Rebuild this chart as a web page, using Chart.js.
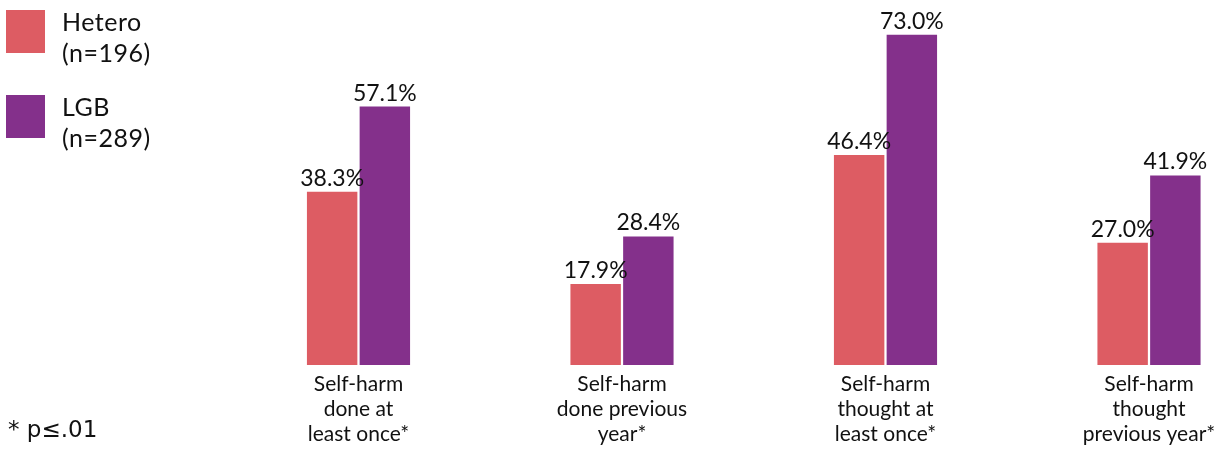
<!DOCTYPE html>
<html>
<head>
<meta charset="utf-8">
<script src="https://cdn.jsdelivr.net/npm/chart.js@4.4.1/dist/chart.umd.min.js"></script>
<style>
  html, body { margin: 0; padding: 0; background: #fff; }
  #wrap { position: relative; width: 1221px; height: 451px; overflow: hidden; }
  #chart { position: absolute; left: 0; top: 0; }
  .legend-item { position: absolute; left: 6px; }
  .swatch { position: absolute; left: 0; width: 39px; height: 43px; }
  .legend-text { position: absolute; left: 56px; top: -4px; font-family: Lato, sans-serif; font-size: 25px; line-height: 31px; color: #111; white-space: nowrap; letter-spacing: 0.5px; }
  #note { position: absolute; left: 8px; top: 417px; font-family: "DejaVu Sans", sans-serif; font-size: 23px; line-height: 24px; color: #111; white-space: nowrap; }
</style>
</head>
<body>
<div id="wrap">
  <canvas id="chart" width="1221" height="451"></canvas>
  <div class="legend-item" style="top:10px">
    <div class="swatch" id="sw-0"></div>
    <div class="legend-text" id="lt-0"></div>
  </div>
  <div class="legend-item" style="top:95px">
    <div class="swatch" id="sw-1"></div>
    <div class="legend-text" id="lt-1"></div>
  </div>
  <div id="note">* p≤.01</div>
</div>
<script>
const categories = [
  ['Self-harm', 'done at', 'least once*'],
  ['Self-harm', 'done previous', 'year*'],
  ['Self-harm', 'thought at', 'least once*'],
  ['Self-harm', 'thought', 'previous year*'],
];
const seriesNames = ['Hetero', 'LGB'];
const seriesCounts = ['(n=196)', '(n=289)'];
const heteroValues = [38.3, 17.9, 46.4, 27.0];
const lgbValues = [57.1, 28.4, 73.0, 41.9];

const COLORS = { hetero: '#dd5c63', lgb: '#84308b' };
const seriesColors = [COLORS.hetero, COLORS.lgb];

// legend (html)
seriesNames.forEach((name, i) => {
  document.getElementById('sw-' + i).style.background = seriesColors[i];
  document.getElementById('lt-' + i).innerHTML = name + '<br>' + seriesCounts[i];
});

// value labels above bars
const valueLabels = {
  id: 'valueLabels',
  afterDatasetsDraw(chart) {
    const ctx = chart.ctx;
    ctx.save();
    ctx.font = '23px Lato, sans-serif';
    ctx.fillStyle = '#111';
    ctx.textAlign = 'center';
    ctx.textBaseline = 'alphabetic';
    chart.data.datasets.forEach((ds, di) => {
      chart.getDatasetMeta(di).data.forEach((bar, i) => {
        ctx.fillText(ds.data[i].toFixed(1) + '%', bar.x, bar.y - 6);
      });
    });
    ctx.restore();
  },
};

// multi-line category labels under each group
const categoryLabels = {
  id: 'categoryLabels',
  afterDraw(chart) {
    const ctx = chart.ctx;
    const x = chart.scales.x;
    ctx.save();
    ctx.font = '21px Lato, sans-serif';
    ctx.fillStyle = '#111';
    ctx.textAlign = 'center';
    ctx.textBaseline = 'alphabetic';
    categories.forEach((lines, i) => {
      const px = x.getPixelForTick(i);
      lines.forEach((line, j) => {
        ctx.fillText(line, px, 391 + j * 25);
      });
    });
    ctx.restore();
  },
};

new Chart(document.getElementById('chart'), {
  type: 'bar',
  data: {
    labels: categories.map(c => c.join(' ')),
    datasets: [
      {
        label: seriesNames[0],
        data: heteroValues,
        backgroundColor: COLORS.hetero,
        borderWidth: 0,
        clip: false,
      },
      {
        label: seriesNames[1],
        data: lgbValues,
        backgroundColor: COLORS.lgb,
        borderWidth: 0,
        clip: false,
      },
    ],
  },
  options: {
    responsive: false,
    animation: false,
    devicePixelRatio: 1,
    categoryPercentage: 0.4,
    barPercentage: 0.957,
    layout: { padding: { left: 358.5, right: 72, top: 3, bottom: 86 } },
    plugins: {
      legend: { display: false },
      tooltip: { enabled: false },
    },
    scales: {
      x: { display: false, offset: false },
      y: { display: false, min: 0, max: 80 },
    },
  },
  plugins: [valueLabels, categoryLabels],
});
</script>
</body>
</html>
